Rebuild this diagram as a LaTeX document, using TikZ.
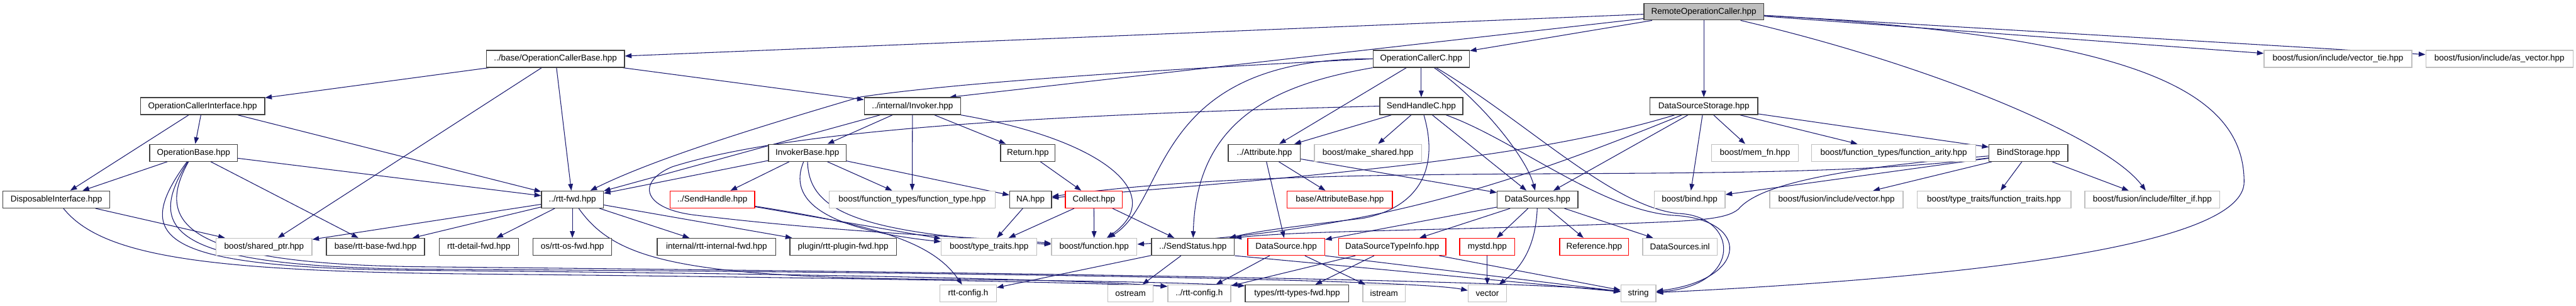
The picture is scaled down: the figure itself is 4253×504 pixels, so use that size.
\documentclass[tikz,border=0pt]{standalone}
\usepackage{fontspec}
\setmainfont{Liberation Sans}
\usetikzlibrary{arrows.meta,backgrounds}
\definecolor{edgeblue}{HTML}{191970}
\definecolor{boxgray}{HTML}{BFBFBF}
\definecolor{boxdark}{HTML}{404040}
\newcommand{\graphfont}{\fontsize{14}{16}\selectfont}
\tikzset{
  hdr/.style={draw=boxdark, fill=white, line width=1.4pt, minimum height=28pt, inner sep=0pt, font=\graphfont},
  sysfile/.style={hdr, draw=boxgray},
  missing/.style={hdr, draw=red},
  rootfile/.style={hdr, fill=boxgray},
  dep/.style={draw=edgeblue, line width=1.1pt, -{Triangle[length=11pt,width=8pt]}},
}

\begin{document}
\begin{tikzpicture}[x=1pt,y=-1pt]
\useasboundingbox (0,0) rectangle (4253,504);
% files, top to bottom
\node[rootfile, minimum width=198pt, minimum height=27pt] (root) at (2813,19.5) {RemoteOperationCaller.hpp};

\node[hdr, minimum width=228pt] (ocb) at (917,97) {../base/OperationCallerBase.hpp};
\node[hdr, minimum width=159pt] (occ) at (2346.5,97) {OperationCallerC.hpp};
\node[sysfile, minimum width=244pt] (vtie) at (3860,97) {boost/fusion/include/vector\_tie.hpp};
\node[sysfile, minimum width=243pt] (asvec) at (4126.5,97) {boost/fusion/include/as\_vector.hpp};

\node[hdr, minimum width=205pt] (oci) at (334.5,175) {OperationCallerInterface.hpp};
\node[hdr, minimum width=159pt] (invoker) at (1506.5,175) {../internal/Invoker.hpp};
\node[hdr, minimum width=137pt] (shc) at (2346.5,175) {SendHandleC.hpp};
\node[hdr, minimum width=178pt] (dss) at (2813,175) {DataSourceStorage.hpp};

\node[hdr, minimum width=145pt] (ob) at (319.5,252) {OperationBase.hpp};
\node[hdr, minimum width=128pt] (ib) at (1333,252) {InvokerBase.hpp};
\node[hdr, minimum width=90pt] (ret) at (1697,252) {Return.hpp};
\node[hdr, minimum width=119pt] (attr) at (2087.5,252) {../Attribute.hpp};
\node[sysfile, minimum width=177pt] (mkshared) at (2258.5,252) {boost/make\_shared.hpp};
\node[sysfile, minimum width=143pt] (memfn) at (2897.5,252) {boost/mem\_fn.hpp};
\node[sysfile, minimum width=271pt] (farity) at (3126.5,252) {boost/function\_types/function\_arity.hpp};
\node[hdr, minimum width=130pt] (bind) at (3349,252) {BindStorage.hpp};

\node[hdr, minimum width=176pt] (disp) at (93,329) {DisposableInterface.hpp};
\node[hdr, minimum width=102pt] (rttfwd) at (945,329) {../rtt-fwd.hpp};
\node[missing, minimum width=140pt] (sendh) at (1176,329) {../SendHandle.hpp};
\node[sysfile, minimum width=274pt] (ftype) at (1506,329) {boost/function\_types/function\_type.hpp};
\node[hdr, minimum width=69pt] (na) at (1701.5,329) {NA.hpp};
\node[missing, minimum width=94pt] (collect) at (1806,329) {Collect.hpp};
\node[missing, minimum width=174pt] (attrbase) at (2212,329) {base/AttributeBase.hpp};
\node[hdr, minimum width=133pt] (dsrcs) at (2538.5,329) {DataSources.hpp};
\node[sysfile, minimum width=117pt] (bbind) at (2789.5,329) {boost/bind.hpp};
\node[sysfile, minimum width=220pt] (fvec) at (3032,329) {boost/fusion/include/vector.hpp};
\node[sysfile, minimum width=254pt] (ftraits) at (3292,329) {boost/type\_traits/function\_traits.hpp};
\node[sysfile, minimum width=223pt] (filter) at (3553.5,329) {boost/fusion/include/filter\_if.hpp};

\node[sysfile, minimum width=158pt] (shptr) at (436,407) {boost/shared\_ptr.hpp};
\node[hdr, minimum width=162pt] (basefwd) at (620,407) {base/rtt-base-fwd.hpp};
\node[hdr, minimum width=131pt] (detfwd) at (790.5,407) {rtt-detail-fwd.hpp};
\node[hdr, minimum width=130pt] (osfwd) at (945,407) {os/rtt-os-fwd.hpp};
\node[hdr, minimum width=196pt] (intfwd) at (1183,407) {internal/rtt-internal-fwd.hpp};
\node[hdr, minimum width=176pt] (plugfwd) at (1392,407) {plugin/rtt-plugin-fwd.hpp};
\node[sysfile, minimum width=158pt] (ttraits) at (1633,407) {boost/type\_traits.hpp};
\node[sysfile, minimum width=141pt] (bfunc) at (1806.5,407) {boost/function.hpp};
\node[hdr, minimum width=137pt] (sstat) at (1969.5,407) {../SendStatus.hpp};
\node[missing, minimum width=127pt] (dsrc) at (2123.5,407) {DataSource.hpp};
\node[missing, minimum width=177pt] (dsti) at (2298.5,407) {DataSourceTypeInfo.hpp};
\node[missing, minimum width=91pt] (mystd) at (2455.5,407) {mystd.hpp};
\node[missing, minimum width=114pt] (ref) at (2632,407) {Reference.hpp};
\node[sysfile, minimum width=123pt] (dsinl) at (2773.5,407) {DataSources.inl};

\node[sysfile, minimum width=93pt] (rcfg) at (1598.5,484) {rtt-config.h};
\node[sysfile, minimum width=75pt] (ostr) at (1866.5,484) {ostream};
\node[sysfile, minimum width=104pt] (rcfg2) at (1980,484) {../rtt-config.h};
\node[hdr, minimum width=171pt] (typfwd) at (2141.5,484) {types/rtt-types-fwd.hpp};
\node[sysfile, minimum width=70pt] (istr) at (2285,484) {istream};
\node[sysfile, minimum width=63pt] (vec) at (2455.5,484) {vector};
\node[sysfile, minimum width=58pt] (str) at (2705,484) {string};

\begin{pgfonlayer}{background}
\fill[white] (0,0) rectangle (4253,504);
% includes of the root file
\draw[dep] (root) -- (ocb);
\draw[dep] (root) -- ([xshift=-19pt]invoker.north east);
\draw[dep] (root) -- (occ);
\draw[dep] (root) -- (dss);
\draw[dep] (root) -- (vtie);
\draw[dep] (root) -- (asvec);
\draw[dep] (root) .. controls (3200,110) and (3480,230) .. (filter);
\draw[dep] (root) .. controls (3500,60) and (3705,140) .. (3705,300) .. controls (3705,400) and (3300,455) .. (str);
% left part
\draw[dep] (ocb) -- (oci);
\draw[dep] (ocb) -- (shptr);
\draw[dep] (ocb) -- (rttfwd);
\draw[dep] (ocb) -- (invoker);
\draw[dep] (oci) -- (disp);
\draw[dep] (oci) -- (ob);
\draw[dep] (oci) -- (rttfwd);
\draw[dep] (ob) -- (disp);
\draw[dep] (ob) -- (rttfwd);
\draw[dep] (ob) -- (basefwd);
\draw[dep] (ob) .. controls (215,395) and (260,442) .. (700,446) .. controls (1400,452) and (1800,462) .. ([yshift=-3pt]rcfg2.north west);
\draw[dep] (ob) .. controls (235,385) and (290,440) .. (700,444) .. controls (1500,448) and (2330,460) .. ([yshift=5pt]vec.west);
\draw[dep] (ob) .. controls (250,375) and (320,436) .. (700,440) .. controls (1500,448) and (2500,460) .. (str);
\draw[dep] (disp) -- (shptr);
\draw[dep] (disp) .. controls (170,425) and (350,448) .. (800,452) .. controls (1400,458) and (1800,466) .. ([yshift=-3pt]rcfg2.north west);
\draw[dep] (rttfwd) -- (basefwd);
\draw[dep] (rttfwd) -- (shptr);
\draw[dep] (rttfwd) -- (detfwd);
\draw[dep] (rttfwd) -- (osfwd);
\draw[dep] (rttfwd) -- (intfwd);
\draw[dep] (rttfwd) -- (plugfwd);
\draw[dep] (rttfwd) .. controls (1010,420) and (1100,455) .. (1500,460) .. controls (1800,463) and (1950,466) .. ([yshift=-2pt]typfwd.north west);
% invoker part
\draw[dep] (invoker) -- (ib);
\draw[dep] (invoker) -- (ftype);
\draw[dep] (invoker) -- (ret);
\draw[dep] (invoker) -- (rttfwd);
\draw[dep] (invoker.south east) .. controls (1820,230) and (1930,320) .. (bfunc);
\draw[dep] (ib) -- (sendh);
\draw[dep] (ib) -- (rttfwd);
\draw[dep] (ib) -- (na);
\draw[dep] (ib) -- (ftype);
\draw[dep] (ib) .. controls (1300,330) and (1360,378) .. (ttraits);
\draw[dep] (ib) .. controls (1335,350) and (1420,385) .. (bfunc);
\draw[dep] (sendh) -- (ttraits);
\draw[dep] (sendh) .. controls (1450,372) and (1540,400) .. (rcfg);
\draw[dep] (ret) -- (collect);
\draw[dep] (collect) -- (bfunc);
\draw[dep] (collect) -- (sstat);
\draw[dep] (collect) -- (ttraits);
\draw[dep] (na) -- (ttraits);
\draw[dep] (sstat) -- (ostr);
\draw[dep] (sstat) -- (rcfg);
\draw[dep] (sstat.south east) -- (str);
% caller part
\draw[dep] (occ) -- (shc);
\draw[dep] (occ) -- (attr);
\draw[dep] (occ) .. controls (2445,165) and (2520,260) .. (dsrcs);
\draw[dep] (occ) .. controls (2520,200) and (2660,340) .. (2770,352) .. controls (2870,355) and (2880,470) .. (str);
\draw[dep] (occ.south west) .. controls (2100,140) and (1975,200) .. (sstat);
\draw[dep] (occ.west) .. controls (1900,95) and (1930,330) .. (bfunc);
\draw[dep] (occ.west) .. controls (1700,125) and (1500,148) .. (1420,160) .. controls (1250,210) and (1080,262) .. (rttfwd);
\draw[dep] (shc) -- (attr);
\draw[dep] (shc) -- (mkshared);
\draw[dep] (shc) -- (dsrcs);
\draw[dep] (shc) .. controls (2500,230) and (2640,345) .. (2760,355) .. controls (2890,360) and (2890,460) .. (str);
\draw[dep] (shc.west) .. controls (1700,190) and (1300,215) .. (1110,275) .. controls (1050,300) and (1060,345) .. (1150,355) .. controls (1400,385) and (1600,390) .. (bfunc);
\draw[dep] (shc) .. controls (2380,290) and (2330,345) .. (2250,360) .. controls (2150,372) and (2080,380) .. (sstat);
\draw[dep] (attr) -- (attrbase);
\draw[dep] (attr) -- (dsrc);
\draw[dep] (attr) -- (dsrcs);
% storage part
\draw[dep] (dss) -- (dsrcs);
\draw[dep] (dss) -- (bbind);
\draw[dep] (dss) -- (memfn);
\draw[dep] (dss) -- (farity);
\draw[dep] (dss) -- (bind);
\draw[dep] (dss) .. controls (2550,255) and (2250,285) .. (na);
\draw[dep] (dss) .. controls (2480,310) and (2260,380) .. (bfunc);
\draw[dep] (bind) -- (ftraits);
\draw[dep] (bind) -- (filter);
\draw[dep] (bind) -- (fvec);
\draw[dep] (bind) -- (bbind);
\draw[dep] (bind) .. controls (2900,310) and (2200,260) .. (na);
\draw[dep] (bind) .. controls (3000,280) and (2900,310) .. (2870,345) .. controls (2850,362) and (2800,364) .. (2700,368) .. controls (2400,380) and (2150,380) .. (sstat.north east);
% data sources
\draw[dep] (dsrcs) -- (mystd);
\draw[dep] (dsrcs) -- (ref);
\draw[dep] (dsrcs) -- (dsinl);
\draw[dep] (dsrcs) -- (dsrc);
\draw[dep] (dsrcs) -- (dsti);
\draw[dep] (dsrcs) .. controls (2535,420) and (2500,450) .. (vec);
\draw[dep] (dsrc) -- (rcfg2);
\draw[dep] (dsrc) -- (istr);
\draw[dep] (dsrc.south east) -- (str);
\draw[dep] (dsti) -- (typfwd);
\draw[dep] (dsti) -- (rcfg2);
\draw[dep] (dsti) -- (str);
\draw[dep] (mystd) -- (vec);
\end{pgfonlayer}
\end{tikzpicture}
\end{document}
